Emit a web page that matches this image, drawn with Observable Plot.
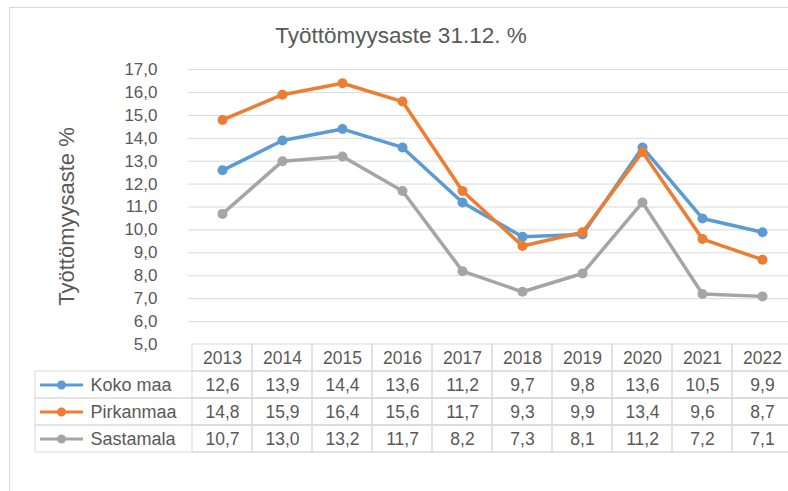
<!DOCTYPE html>
<html>
<head>
<meta charset="utf-8">
<script src="https://cdn.jsdelivr.net/npm/d3@7"></script>
<script src="https://cdn.jsdelivr.net/npm/@observablehq/plot@0.6"></script>
<style>
  html, body { margin: 0; padding: 0; background: #fff; }
  #wrap { position: relative; width: 788px; height: 491px; overflow: hidden; font-family: "Liberation Sans", Arial, sans-serif; }
  #frame { position: absolute; left: 9px; top: 7px; width: 820px; height: 520px; border: 1px solid #d9d9d9; box-sizing: border-box; }
  #title { position: absolute; left: 0; width: 802px; top: 25px; text-align: center; font-size: 22.5px; line-height: 1; color: #595959; white-space: nowrap; }
  #chart, #table { position: absolute; left: 0; }
  #chart { top: 0; }
  #table { top: 344px; }
</style>
</head>
<body>
<div id="wrap">
  <div id="frame"></div>
  <div id="title"></div>
  <div id="chart"></div>
  <div id="table"></div>
</div>
<script>
const titleText = "Työttömyysaste 31.12. %";
const yLabel = "Työttömyysaste %";
const years = [2013, 2014, 2015, 2016, 2017, 2018, 2019, 2020, 2021, 2022];
const seriesNames = ["Koko maa", "Pirkanmaa", "Sastamala"];
const kokoMaa   = [12.6, 13.9, 14.4, 13.6, 11.2, 9.7, 9.8, 13.6, 10.5, 9.9];
const pirkanmaa = [14.8, 15.9, 16.4, 15.6, 11.7, 9.3, 9.9, 13.4, 9.6, 8.7];
const sastamala = [10.7, 13.0, 13.2, 11.7, 8.2, 7.3, 8.1, 11.2, 7.2, 7.1];
const yTicks = [5, 6, 7, 8, 9, 10, 11, 12, 13, 14, 15, 16, 17];
const colors = ["#5B9BD5", "#ED7D31", "#A5A5A5"];

const seriesValues = [kokoMaa, pirkanmaa, sastamala];
const data = seriesNames.flatMap((name, i) => years.map((year, j) => ({series: name, year, value: seriesValues[i][j]})));
const fmt = v => v.toFixed(1).replace(".", ",");
const font = "'Liberation Sans', Arial, sans-serif";
const textColor = "#595959";

document.getElementById("title").textContent = titleText;

const chart = Plot.plot({
  width: 796, height: 360,
  marginTop: 69, marginBottom: 16, marginLeft: 188, marginRight: 1,
  style: {fontFamily: font, fontSize: "17px", color: textColor, background: "transparent", overflow: "visible", maxWidth: "none"},
  x: {type: "point", domain: years, padding: 0.5, axis: null},
  y: {domain: [5, 17]},
  color: {domain: seriesNames, range: colors},
  marks: [
    Plot.gridY(yTicks.filter(t => t > 5), {stroke: "#d9d9d9", strokeOpacity: 1, strokeWidth: 1}),
    Plot.axisY(yTicks, {tickSize: 0, tickPadding: 31, tickFormat: fmt, label: null, fontSize: 17, fill: textColor}),
    Plot.text([yLabel], {frameAnchor: "left", rotate: -90, dx: -130, dy: 9.5, lineAnchor: "top", textAnchor: "middle", fontSize: 22, fill: textColor}),
    ...seriesNames.flatMap(name => {
      const d = data.filter(r => r.series === name);
      return [
        Plot.line(d, {x: "year", y: "value", stroke: "series", strokeWidth: 3.5, strokeLinejoin: "round", strokeLinecap: "round"}),
        Plot.dot(d, {x: "year", y: "value", fill: "series", r: 5, stroke: "none"})
      ];
    })
  ]
});
document.getElementById("chart").appendChild(chart);

// legend key symbol: line with a marker, as in the data table legend
const keySymbol = {
  draw(context, size) {
    const r = Math.sqrt(size / Math.PI);
    context.moveTo(-21.5, -1.5);
    context.lineTo(21.5, -1.5);
    context.lineTo(21.5, 1.5);
    context.lineTo(-21.5, 1.5);
    context.closePath();
    context.moveTo(r, 0);
    context.arc(0, 0, r, 0, 2 * Math.PI);
    context.closePath();
  }
};

const headerKey = "header";
const headerCells = years.map(year => ({year, row: headerKey}));
const valueCells = data.map(d => ({year: d.year, row: d.series}));

const table = Plot.plot({
  width: 796, height: 110,
  marginTop: 0, marginBottom: 2, marginLeft: 35, marginRight: 1,
  style: {fontFamily: font, fontSize: "17px", color: textColor, background: "transparent", overflow: "visible", maxWidth: "none"},
  x: {type: "band", domain: years, range: [188, 795], padding: 0, axis: null},
  y: {type: "band", domain: [headerKey, ...seriesNames], padding: 0, axis: null},
  color: {domain: seriesNames, range: colors},
  marks: [
    Plot.cell(seriesNames, {y: d => d, fill: "none", stroke: "#d9d9d9"}),
    Plot.cell([...headerCells, ...valueCells], {x: "year", y: "row", fill: "none", stroke: "#d9d9d9"}),
    Plot.text(years, {x: d => d, y: () => headerKey, text: d => String(d), fontSize: 17.5, fill: textColor}),
    Plot.text(data, {x: "year", y: "series", text: d => fmt(d.value), fontSize: 17.5, fill: textColor}),
    Plot.dot(seriesNames, {y: d => d, frameAnchor: "left", dx: 26, symbol: keySymbol, r: 4.5, fill: d => d, stroke: "none"}),
    Plot.text(seriesNames, {y: d => d, frameAnchor: "left", dx: 55, textAnchor: "start", text: d => d, fontSize: 18, fill: textColor})
  ]
});
document.getElementById("table").appendChild(table);
</script>
</body>
</html>
